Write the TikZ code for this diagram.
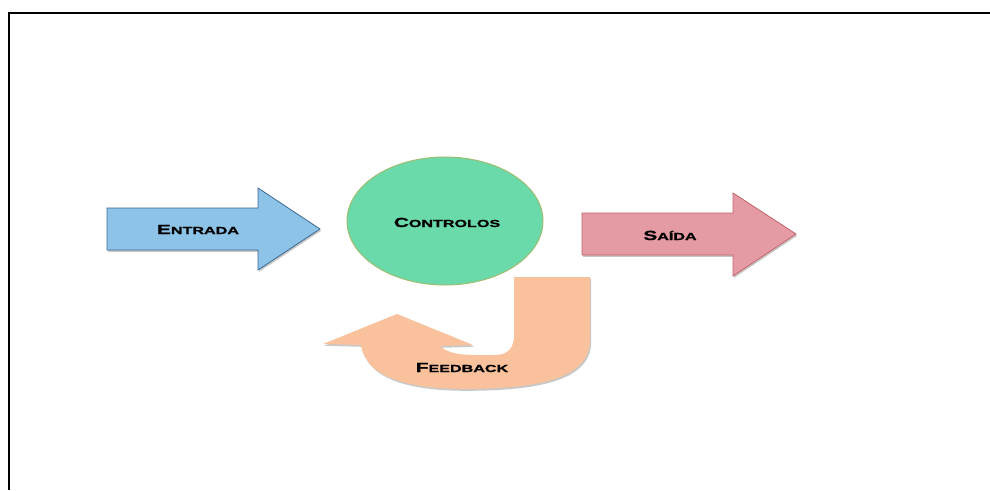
\documentclass[tikz,border=0pt]{standalone}
\usepackage{fontspec}
\usetikzlibrary{shadows,shapes.geometric}
\newfontfamily\lblfont[FakeStretch=1.58,FakeBold=1.2]{Liberation Sans}
% small-caps look: large initial, smaller capitals after it
\newcommand\lblsc[2]{{\fontsize{13.2}{15}\selectfont #1}{\fontsize{10.2}{12}\selectfont #2}}
\definecolor{inblue}{RGB}{140,195,230}
\definecolor{inblueline}{RGB}{62,104,150}
\definecolor{outpink}{RGB}{228,155,163}
\definecolor{outpinkline}{RGB}{196,98,108}
\definecolor{ctrlgreen}{RGB}{106,218,170}
\definecolor{ctrlline}{RGB}{160,188,112}
\definecolor{fbpeach}{RGB}{249,194,157}
\tikzset{
  softshadow/.style={drop shadow={shadow xshift=1.2pt,shadow yshift=-1.8pt,opacity=0.3,fill=black!70}},
  inarrow/.style={fill=inblue,draw=inblueline,line width=0.8pt,line join=miter,softshadow},
  outarrow/.style={fill=outpink,draw=outpinkline,line width=0.8pt,line join=miter,softshadow},
  fbarrow/.style={fill=fbpeach,draw=none,softshadow},
  ctrlshape/.style={ellipse,fill=ctrlgreen,draw=ctrlline,line width=1pt,minimum width=196pt,minimum height=128pt,inner sep=0pt},
  lbl/.style={font=\lblfont\bfseries,text=black,anchor=base,inner sep=0pt},
  frameline/.style={line width=2pt,draw=black}
}
\begin{document}
\begin{tikzpicture}[x=1pt,y=-1pt]
\useasboundingbox (0,0) rectangle (990,490);
\fill[white] (0,0) rectangle (990,490);
% outer frame: top and left edges
\coordinate (frTR) at (990,13);
\coordinate (frTL) at (9,13);
\coordinate (frBL) at (9,490);
\draw[frameline] (frTR) -- (frTL) -- (frBL);

% input arrow
\path[inarrow] (107,208) -- (258,208) -- (258,188) -- (320,229) -- (258,270) -- (258,250) -- (107,250) -- cycle;
\node[lbl] (entrada) at (198,234) {\lblsc{E}{NTRADA}};

% controller
\node[ctrlshape] (ctrl) at (445,221) {};
\node[lbl] (ctrltxt) at (447,227) {\lblsc{C}{ONTROLOS}};

% output arrow
\path[outarrow] (582,213) -- (733,213) -- (733,193) -- (796,234) -- (733,276) -- (733,255) -- (582,255) -- cycle;
\node[lbl] (saida) at (670,240) {\lblsc{S}{AÍDA}};

% feedback u-turn arrow
\path[fbarrow] (590,277) -- (590,340)
  .. controls (590,376) and (545,389) .. (465,389)
  .. controls (410,389) and (366,378) .. (361,345)
  -- (323,344) -- (397,314) -- (473,345) -- (440,346)
  .. controls (447,353) and (460,355) .. (475,355)
  -- (495,355)
  .. controls (508,355) and (514,348) .. (514,335)
  -- (514,277) -- cycle;
\node[lbl] (feedback) at (462,372) {\lblsc{F}{EEDBACK}};
\end{tikzpicture}
\end{document}
